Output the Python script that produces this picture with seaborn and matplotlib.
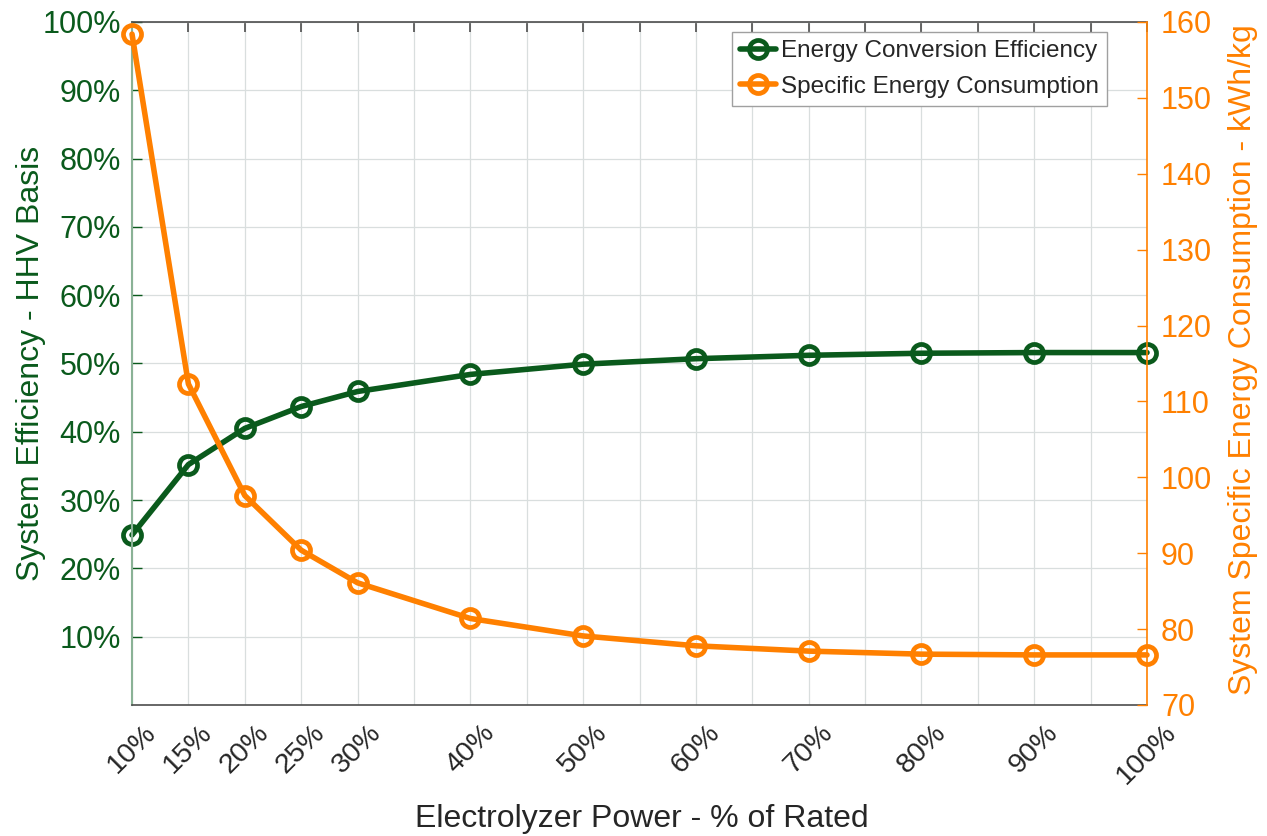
import matplotlib
matplotlib.use("Agg")
import matplotlib.pyplot as plt
import seaborn as sns
import pandas as pd
from matplotlib.ticker import FuncFormatter

power = [10, 15, 20, 25, 30, 40, 50, 60, 70, 80, 90, 100]
efficiency = [24.9, 35.2, 40.5, 43.7, 45.9, 48.4, 49.9, 50.7, 51.2, 51.5, 51.6, 51.6]
consumption = [158.4, 112.3, 97.6, 90.4, 86.1, 81.4, 79.1, 77.8, 77.1, 76.7, 76.6, 76.6]
xtick_labels = ["10%", "15%", "20%", "25%", "30%", "40%", "50%", "60%", "70%", "80%", "90%", "100%"]

sns.set_style("white")
plt.rcParams["font.family"] = ["Liberation Sans", "DejaVu Sans"]

GREEN = "#0a5a1c"
ORANGE = "#ff8000"
GRAY = "#262626"

df = pd.DataFrame({"power": power, "eff": efficiency, "sec": consumption})

fig = plt.figure(figsize=(12.67, 8.36), dpi=100)
ax = fig.add_axes([0.1042, 0.1567, 0.8011, 0.817])
ax2 = ax.twinx()

sns.lineplot(data=df, x="power", y="eff", ax=ax, color=GREEN, lw=4.0,
             marker="o", markersize=13, markerfacecolor="none",
             markeredgecolor=GREEN, markeredgewidth=3.4,
             label="Energy Conversion Efficiency", legend=False)
sns.lineplot(data=df, x="power", y="sec", ax=ax2, color=ORANGE, lw=4.0,
             marker="o", markersize=13, markerfacecolor="none",
             markeredgecolor=ORANGE, markeredgewidth=3.4,
             label="Specific Energy Consumption", legend=False)

for a in (ax, ax2):
    for ln in a.lines:
        ln.set_clip_on(False)

ax.set_xlim(10, 100)
ax.set_ylim(0, 100)
ax2.set_ylim(70, 160)

xt = list(range(10, 101, 5))
ax.set_xticks(xt)
lab_map = dict(zip(power, xtick_labels))
ax.set_xticklabels([lab_map.get(v, "") for v in xt], rotation=45, ha="center",
                   va="top", rotation_mode="default", fontsize=20.5, color=GRAY)

ax.set_yticks(range(10, 101, 10))
ax.yaxis.set_major_formatter(FuncFormatter(lambda v, p: f"{int(v)}%"))
ax.tick_params(axis="y", labelsize=22, labelcolor=GREEN, color=GREEN,
               direction="in", length=7, width=1, pad=8)
ax.tick_params(axis="x", direction="in", length=7, width=1.2, color="#4d4d4d",
               top=True, pad=10.5)

ax2.set_yticks(range(70, 161, 10))
ax2.tick_params(axis="y", labelsize=22, labelcolor=ORANGE, color=ORANGE,
                direction="in", length=7, width=1, pad=10)

ax.grid(True, color="#d9dede", lw=0.9)
ax.set_axisbelow(True)

ax.set_xlabel("Electrolyzer Power - % of Rated", fontsize=23, color=GRAY)
ax.xaxis.set_label_coords(0.502, -0.145)
ax.set_ylabel("System Efficiency - HHV Basis", fontsize=23, color=GREEN)
ax.yaxis.set_label_coords(-0.0848, 0.5)
ax2.set_ylabel("System Specific Energy Consumption - kWh/kg", fontsize=23, color=ORANGE)
ax2.yaxis.set_label_coords(1.080, 0.505)

for s in ("top", "bottom"):
    ax.spines[s].set_color("#4d4d4d")
    ax.spines[s].set_linewidth(1.2)
    ax2.spines[s].set_visible(False)
ax.spines["left"].set_color("#8ab296")
ax.spines["left"].set_linewidth(1.5)
ax.spines["right"].set_visible(False)
ax2.spines["left"].set_visible(False)
ax2.spines["right"].set_color(ORANGE)
ax2.spines["right"].set_linewidth(1.2)

h1, l1 = ax.get_legend_handles_labels()
h2, l2 = ax2.get_legend_handles_labels()
leg = ax2.legend(h1 + h2, l1 + l2, loc="upper right", fontsize=17.5,
                 frameon=True, fancybox=False, framealpha=1, edgecolor="#a0a0a0",
                 borderpad=0.35, handlelength=1.45, handletextpad=0.2,
                 labelspacing=0.55, borderaxespad=0,
                 bbox_to_anchor=(0.9606, 0.9854))
leg.get_frame().set_linewidth(1.0)

fig.savefig("out.png", dpi=100)
